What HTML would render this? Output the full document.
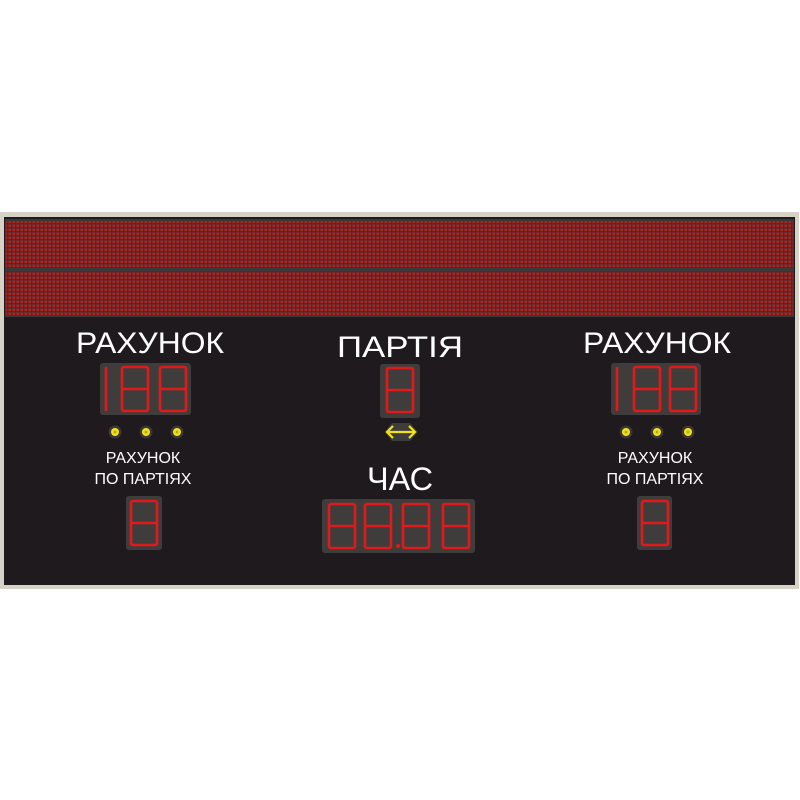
<!DOCTYPE html>
<html><head><meta charset="utf-8"><style>
html,body{margin:0;padding:0;background:#fff;width:800px;height:800px;overflow:hidden}
text{font-family:"Liberation Sans","DejaVu Sans",sans-serif;fill:#fff}
</style></head><body>
<svg width="800" height="800" viewBox="0 0 800 800" xmlns="http://www.w3.org/2000/svg">
<defs>
<pattern id="led" width="4" height="4" patternUnits="userSpaceOnUse">
<rect width="4" height="4" fill="#4a2a2c"/>
<rect x="0.5" y="0.5" width="2.6" height="2.6" fill="#b02422"/>
</pattern>
<g id="d8">
<rect x="0" y="0" width="26" height="44" rx="2" fill="none" stroke="#e01a1a" stroke-width="2.6"/>
<line x1="1" y1="22" x2="25" y2="22" stroke="#e01a1a" stroke-width="2.6"/>
</g>
<g id="d1">
<line x1="0" y1="0" x2="0" y2="44" stroke="#e01a1a" stroke-width="2.6"/>
</g>
<g id="dot">
<circle r="6.5" fill="#3a3835"/>
<circle r="4" fill="#f2e21a"/>
<circle r="1.5" fill="#b8a810"/>
</g>
</defs>
<rect x="0" y="212" width="799" height="377" fill="#d6d2c6"/>
<rect x="4" y="217" width="791" height="368" fill="#1e1a1d"/>
<rect x="5" y="219" width="789" height="98" fill="#3a3a3a"/>
<rect x="6" y="221" width="787" height="47" fill="url(#led)"/>
<rect x="6" y="271" width="787" height="45" fill="url(#led)"/>

<text x="150" y="353" font-size="30" text-anchor="middle" textLength="148" lengthAdjust="spacingAndGlyphs">РАХУНОК</text>
<text x="400" y="357" font-size="30" text-anchor="middle" textLength="126" lengthAdjust="spacingAndGlyphs">ПАРТІЯ</text>
<text x="657" y="353" font-size="30" text-anchor="middle" textLength="148" lengthAdjust="spacingAndGlyphs">РАХУНОК</text>
<text x="400" y="490" font-size="32" text-anchor="middle" textLength="66" lengthAdjust="spacingAndGlyphs">ЧАС</text>
<text x="143" y="463" font-size="16" text-anchor="middle">РАХУНОК</text>
<text x="143" y="484" font-size="16" text-anchor="middle">ПО ПАРТІЯХ</text>
<text x="655" y="463" font-size="16" text-anchor="middle">РАХУНОК</text>
<text x="655" y="484" font-size="16" text-anchor="middle">ПО ПАРТІЯХ</text>

<rect x="100" y="363" width="91" height="52" rx="3" fill="#3e3d3c"/>
<use href="#d1" x="106" y="367"/>
<use href="#d8" x="122" y="367"/>
<use href="#d8" x="160" y="367"/>
<rect x="611" y="363" width="90" height="52" rx="3" fill="#3e3d3c"/>
<use href="#d1" x="617" y="367"/>
<use href="#d8" x="634" y="367"/>
<use href="#d8" x="670" y="367"/>
<rect x="380" y="364" width="40" height="54" rx="3" fill="#3e3d3c"/>
<use href="#d8" x="387" y="368"/>
<polygon points="385,432 392,423 410,423 418,432 410,441 392,441" fill="#3e3d3c"/>
<g stroke="#f2e21a" stroke-width="2.2" fill="none">
<line x1="387" y1="432" x2="415" y2="432"/>
<polyline points="393,426 387,432 393,438"/>
<polyline points="409,426 415,432 409,438"/>
</g>
<use href="#dot" x="115" y="432"/>
<use href="#dot" x="146" y="432"/>
<use href="#dot" x="177" y="432"/>
<use href="#dot" x="626" y="432"/>
<use href="#dot" x="657" y="432"/>
<use href="#dot" x="688" y="432"/>
<rect x="126" y="496" width="36" height="54" rx="3" fill="#3e3d3c"/>
<use href="#d8" x="131" y="501"/>
<rect x="637" y="496" width="35" height="54" rx="3" fill="#3e3d3c"/>
<use href="#d8" x="642" y="501"/>
<rect x="322" y="499" width="153" height="54" rx="3" fill="#3e3d3c"/>
<use href="#d8" x="329" y="504"/>
<use href="#d8" x="365" y="504"/>
<circle cx="398" cy="546" r="2" fill="#e01a1a"/>
<use href="#d8" x="403" y="504"/>
<use href="#d8" x="443" y="504"/>
</svg>
</body></html>
